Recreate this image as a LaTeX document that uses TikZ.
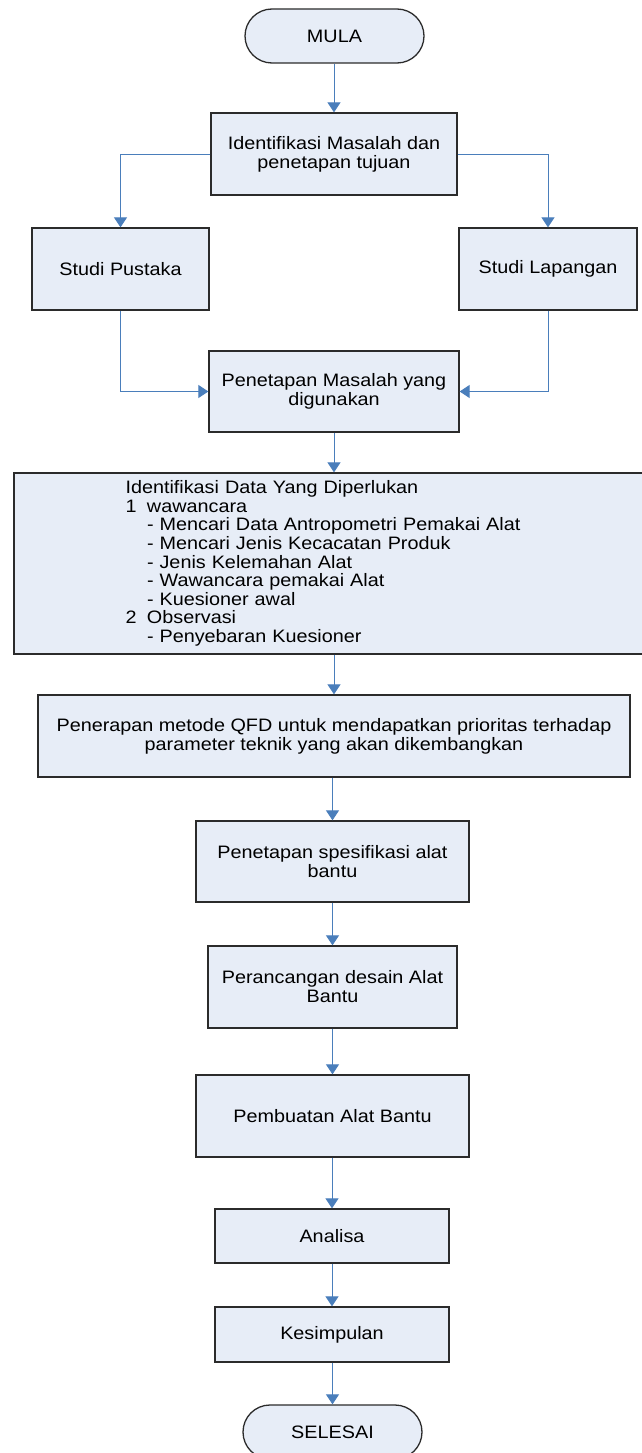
\documentclass[tikz,border=0pt]{standalone}
\usepackage{fontspec}
\setmainfont{Liberation Sans}[FakeStretch=1.1]
\usetikzlibrary{arrows.meta}
\definecolor{boxfill}{HTML}{E7EDF7}
\definecolor{boxline}{HTML}{2B2B2B}
\definecolor{conncol}{HTML}{4A7EBB}
\tikzset{
  stepbox/.style={draw=boxline, line width=1.3pt, fill=boxfill, inner sep=0pt,
    align=center, font=\fontsize{18}{19}\selectfont},
  termbox/.style={stepbox, rounded corners=27pt},
  conn/.style={draw=conncol, line width=0.9pt,
    -{Triangle[width=13pt,length=10pt,fill=conncol]}},
}
\begin{document}
\begin{tikzpicture}[x=1pt,y=-1pt]
\useasboundingbox (0,0) rectangle (642,1453);
\clip (0,0) rectangle (642,1453);
\node[termbox, minimum width=179pt, minimum height=54pt] (mula) at (334.5,36) {MULA};
\node[stepbox, minimum width=246pt, minimum height=82pt] (idm) at (334,154) {Identifikasi Masalah dan\\penetapan tujuan};
\node[stepbox, minimum width=177pt, minimum height=82pt] (sp) at (120.5,269) {Studi Pustaka};
\node[stepbox, minimum width=178pt, minimum height=82pt] (sl) at (548,269) {Studi Lapangan};
\node[stepbox, minimum width=250pt, minimum height=81pt] (pm) at (334,391.5) {Penetapan Masalah yang\\digunakan};
\node[stepbox, minimum width=640pt, minimum height=181pt, text width=417pt, inner xsep=111.5pt, align=left, font=\fontsize{18}{18.6}\selectfont] (idd) at (334,563.5) {Identifikasi Data Yang Diperlukan\\
\makebox[21.5pt][l]{1}wawancara\\
\hspace*{21.5pt}- Mencari Data Antropometri Pemakai Alat\\
\hspace*{21.5pt}- Mencari Jenis Kecacatan Produk\\
\hspace*{21.5pt}- Jenis Kelemahan Alat\\
\hspace*{21.5pt}- Wawancara pemakai Alat\\
\hspace*{21.5pt}- Kuesioner awal\\
\makebox[21.5pt][l]{2}Observasi\\
\hspace*{21.5pt}- Penyebaran Kuesioner};
\node[stepbox, minimum width=592pt, minimum height=82pt] (qfd) at (334,736) {Penerapan metode QFD untuk mendapatkan prioritas terhadap\\parameter teknik yang akan dikembangkan};
\node[stepbox, minimum width=273pt, minimum height=81pt] (pss) at (332.5,861.5) {Penetapan spesifikasi alat\\bantu};
\node[stepbox, minimum width=249pt, minimum height=82pt] (pds) at (332.5,987) {Perancangan desain Alat\\Bantu};
\node[stepbox, minimum width=273pt, minimum height=82pt] (pab) at (332.5,1116) {Pembuatan Alat Bantu};
\node[stepbox, minimum width=234pt, minimum height=54pt] (ana) at (332,1236) {Analisa};
\node[stepbox, minimum width=234pt, minimum height=55pt] (kes) at (332,1334.5) {Kesimpulan};
\node[termbox, minimum width=179pt, minimum height=54pt] (sel) at (332.5,1432) {SELESAI};
\draw[conn] (mula.south -| idm.north) -- (idm.north);
\draw[conn] (idm.west) -| (sp.north);
\draw[conn] (idm.east) -| (sl.north);
\draw[conn] (sp.south) |- (pm.west);
\draw[conn] (sl.south) |- (pm.east);
\draw[conn] (pm.south) -- (idd.north);
\draw[conn] (idd.south) -- (qfd.north);
\draw[conn] (qfd.south -| pss.north) -- (pss.north);
\draw[conn] (pss.south) -- (pds.north);
\draw[conn] (pds.south) -- (pab.north);
\draw[conn] (pab.south -| ana.north) -- (ana.north);
\draw[conn] (ana.south) -- (kes.north);
\draw[conn] (kes.south -| sel.north) -- (sel.north);
\end{tikzpicture}
\end{document}
